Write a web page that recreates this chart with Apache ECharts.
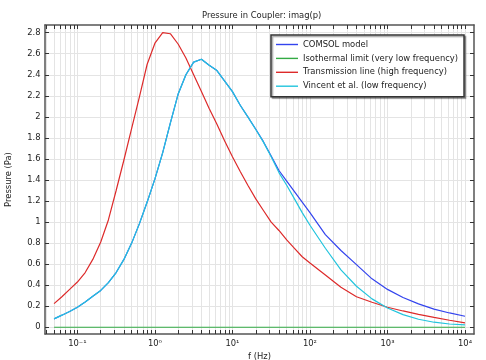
<!DOCTYPE html>
<html>
<head>
<meta charset="utf-8">
<script src="https://cdn.jsdelivr.net/npm/echarts@6/dist/echarts.min.js"></script>
<style>html,body{margin:0;padding:0;background:#fff}#c{width:486px;height:360px}</style>
</head>
<body>
<div id="c"></div>
<script>
// Frequencies (Hz)
const freq = [0.05, 0.0631, 0.0794, 0.1, 0.126, 0.158, 0.2, 0.251, 0.316, 0.398, 0.501, 0.631, 0.794,
  1, 1.26, 1.58, 2, 2.51, 3.16, 3.98, 5.01, 6.31, 7.94, 10, 12.6, 15.8, 20, 25.1, 31.6, 39.8, 50.1, 63.1, 79.4,
  100, 158, 251, 398, 631, 1000, 1585, 2512, 3981, 6310, 10000];
// imag(p) values (Pa), one per frequency
const comsol = [0.08, 0.115, 0.15, 0.19, 0.24, 0.295, 0.35, 0.425, 0.52, 0.645, 0.80, 0.985, 1.19,
  1.41, 1.66, 1.94, 2.22, 2.40, 2.52, 2.547, 2.49, 2.44, 2.34, 2.24, 2.11, 2.00, 1.882, 1.764, 1.628, 1.49, 1.39, 1.29, 1.19,
  1.09, 0.88, 0.73, 0.595, 0.46, 0.36, 0.283, 0.222, 0.173, 0.136, 0.105];
const isothermal = [0, 0, 0, 0, 0, 0, 0, 0, 0, 0, 0, 0, 0,
  0, 0, 0, 0, 0, 0, 0, 0, 0, 0, 0, 0, 0, 0, 0, 0, 0, 0, 0, 0,
  0, 0, 0, 0, 0, 0, 0, 0, 0, 0, 0];
const transmission = [0.225, 0.29, 0.36, 0.43, 0.52, 0.645, 0.81, 1.02, 1.30, 1.59, 1.89, 2.19, 2.50,
  2.70, 2.80, 2.79, 2.69, 2.56, 2.40, 2.24, 2.08, 1.93, 1.77, 1.62, 1.48, 1.35, 1.22, 1.11, 1.00, 0.92, 0.83, 0.75, 0.67,
  0.61, 0.497, 0.38, 0.29, 0.238, 0.19, 0.155, 0.123, 0.094, 0.067, 0.041];
const vincent = [0.08, 0.115, 0.15, 0.19, 0.24, 0.295, 0.35, 0.425, 0.52, 0.645, 0.80, 0.985, 1.19,
  1.41, 1.66, 1.94, 2.22, 2.40, 2.52, 2.547, 2.49, 2.44, 2.34, 2.24, 2.11, 2.00, 1.88, 1.76, 1.62, 1.47, 1.35, 1.22, 1.09,
  0.97, 0.751, 0.545, 0.39, 0.27, 0.183, 0.12, 0.076, 0.048, 0.031, 0.022];
const seriesNames = ['COMSOL model', 'Isothermal limit (very low frequency)', 'Transmission line (high frequency)', 'Vincent et al. (low frequency)'];
const seriesColors = ['#3344ee', '#33aa44', '#dd2a2a', '#22c4dd'];
const yTicks = [0, 0.2, 0.4, 0.6, 0.8, 1, 1.2, 1.4, 1.6, 1.8, 2, 2.2, 2.4, 2.6, 2.8];
const xDecades = [-1, 0, 1, 2, 3, 4];
const decadeLabels = ['10\u207B\u00B9', '10\u2070', '10\u00B9', '10\u00B2', '10\u00B3', '10\u2074'];

const xmin = -1.418, xmax = 4.116;
const minorTicks = [];
for (let d = -2; d <= 4; d++) {
  for (let m = 1; m <= 9; m++) {
    const v = d + Math.log10(m);
    if (v >= xmin && v <= xmax) minorTicks.push(v);
  }
}
const toPts = arr => freq.map((f, i) => [Math.log10(f), arr[i]]);
const datasets = [comsol, isothermal, transmission, vincent];

const font = 'DejaVu Sans';
const fs = 8.4;
const chart = echarts.init(document.getElementById('c'), null, {renderer: 'canvas'});
chart.setOption({
  animation: false,
  backgroundColor: '#fff',
  textStyle: {fontFamily: font},
  title: {
    text: 'Pressure in Coupler: imag(p)', left: 197, top: 7,
    textStyle: {fontFamily: font, fontSize: fs, fontWeight: 'normal', color: '#222'}
  },
  grid: {left: 45, right: 12, top: 25, bottom: 26, containLabel: false, outerBoundsMode: 'none'},
  legend: {
    left: 271, top: 35, orient: 'vertical',
    data: seriesNames,
    itemWidth: 22, itemHeight: 10, itemGap: 5.9,
    padding: [5.5, 6, 6.5, 5],
    backgroundColor: '#fff', borderColor: '#333', borderWidth: 1.5,
    shadowColor: 'rgba(0,0,0,0.35)', shadowOffsetX: 1.5, shadowOffsetY: 1.5, shadowBlur: 1,
    textStyle: {fontFamily: font, fontSize: fs, color: '#222'},
    icon: 'path://M0,0 L22,0 L22,1.4 L0,1.4 Z'
  },
  xAxis: [{
    type: 'value', min: xmin, max: xmax, position: 'bottom',
    name: 'f (Hz)', nameLocation: 'middle', nameGap: 13,
    nameTextStyle: {fontFamily: font, fontSize: fs, color: '#222'},
    axisLine: {show: true, onZero: false, lineStyle: {color: '#555', width: 1.5}},
    axisTick: {show: true, inside: true, length: 4, customValues: minorTicks, lineStyle: {color: '#333'}},
    axisLabel: {customValues: xDecades, margin: 6, fontFamily: font, fontSize: fs, color: '#222',
      formatter: v => decadeLabels[xDecades.indexOf(Math.round(v))]},
    splitLine: {show: true, lineStyle: {color: '#e4e4e4', width: 1}}
  }, {
    type: 'value', min: xmin, max: xmax, position: 'top',
    axisLine: {show: true, onZero: false, lineStyle: {color: '#555', width: 1.5}},
    axisTick: {show: true, inside: true, length: 4, customValues: minorTicks, lineStyle: {color: '#333'}},
    axisLabel: {show: false},
    splitLine: {show: false}
  }],
  yAxis: [{
    type: 'value', min: -0.064, max: 2.873, position: 'left',
    name: 'Pressure (Pa)', nameLocation: 'middle', nameGap: 32,
    nameTextStyle: {fontFamily: font, fontSize: fs, color: '#222'},
    axisLine: {show: true, onZero: false, lineStyle: {color: '#555', width: 1.5}},
    axisTick: {show: true, inside: true, length: 4, customValues: yTicks, lineStyle: {color: '#333'}},
    axisLabel: {customValues: yTicks, margin: 4.5, fontFamily: font, fontSize: fs, color: '#222',
      formatter: v => String(Math.round(v * 10) / 10)},
    splitLine: {show: true, lineStyle: {color: '#e4e4e4', width: 1}}
  }, {
    type: 'value', min: -0.064, max: 2.873, position: 'right',
    axisLine: {show: true, onZero: false, lineStyle: {color: '#555', width: 1.5}},
    axisTick: {show: true, inside: true, length: 4, customValues: yTicks, lineStyle: {color: '#333'}},
    axisLabel: {show: false},
    splitLine: {show: false}
  }],
  series: seriesNames.map((name, i) => ({
    name, type: 'line', xAxisIndex: 0, yAxisIndex: 0,
    data: toPts(datasets[i]),
    showSymbol: false, symbol: 'none', smooth: false,
    lineStyle: {color: seriesColors[i], width: 1.2},
    itemStyle: {color: seriesColors[i]},
    z: 2 + i
  }))
});
</script>
</body>
</html>
